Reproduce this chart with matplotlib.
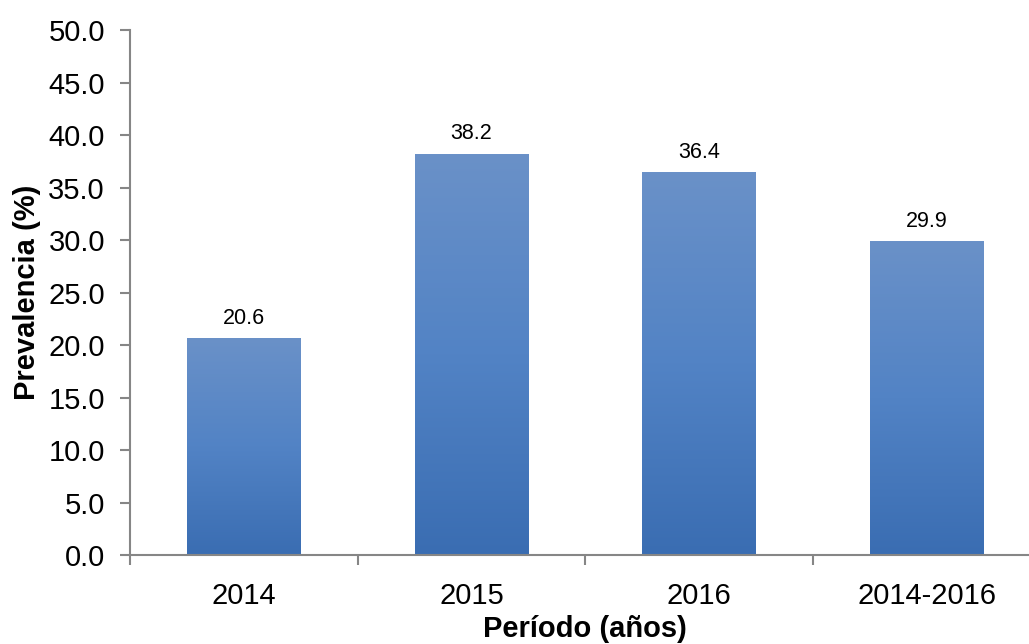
import numpy as np
import matplotlib.pyplot as plt
from matplotlib.colors import LinearSegmentedColormap

periodos = ['2014', '2015', '2016', '2014-2016']
prevalencia = [20.6, 38.2, 36.4, 29.9]
yticks = [0, 5, 10, 15, 20, 25, 30, 35, 40, 45, 50]

plt.rcParams['font.family'] = ['Liberation Sans', 'DejaVu Sans']

fig = plt.figure(figsize=(10.29, 6.44), dpi=100)
ax = fig.add_axes([0.1263, 0.138, 0.885, 0.815])

x = np.arange(len(periodos))
bars = ax.bar(x, prevalencia, width=0.5, color='none', zorder=2)

# vertical gradient inside each bar
cmap = LinearSegmentedColormap.from_list('azul', ['#3a6db2', '#5283c5', '#6a91c8'])
grad = np.linspace(0, 1, 256).reshape(-1, 1)
for b in bars:
    x0, w, h = b.get_x(), b.get_width(), b.get_height()
    ax.imshow(grad, cmap=cmap, origin='lower', aspect='auto',
              extent=[x0, x0 + w, 0, h], zorder=2)

for xi, v in zip(x, prevalencia):
    ax.annotate('%.1f' % v, (xi, v), xytext=(0, 7), textcoords='offset points',
                ha='center', va='bottom', fontsize=15.5)

ax.set_xlim(-0.5, len(periodos) - 0.5)
ax.set_ylim(0, 50)
ax.set_yticks(yticks)
ax.set_yticklabels(['%.1f' % t for t in yticks], fontsize=21)
ax.set_xticks(x)
ax.set_xticklabels(periodos, fontsize=21)
ax.set_xticks(np.arange(-0.5, len(periodos), 1), minor=True)

ax.tick_params(axis='x', which='major', length=0, pad=19)
ax.tick_params(axis='x', which='minor', length=7, width=1.5, color='#868686')
ax.tick_params(axis='y', length=7, width=1.5, color='#868686', pad=11)

for s in ['top', 'right']:
    ax.spines[s].set_visible(False)
for s in ['left', 'bottom']:
    ax.spines[s].set_color('#868686')
    ax.spines[s].set_linewidth(1.5)

ax.set_ylabel('Prevalencia (%)', fontsize=21, fontweight='bold', labelpad=5)
ax.set_xlabel('Período (años)', fontsize=21, fontweight='bold', labelpad=4)

fig.savefig('out.png', dpi=100)
